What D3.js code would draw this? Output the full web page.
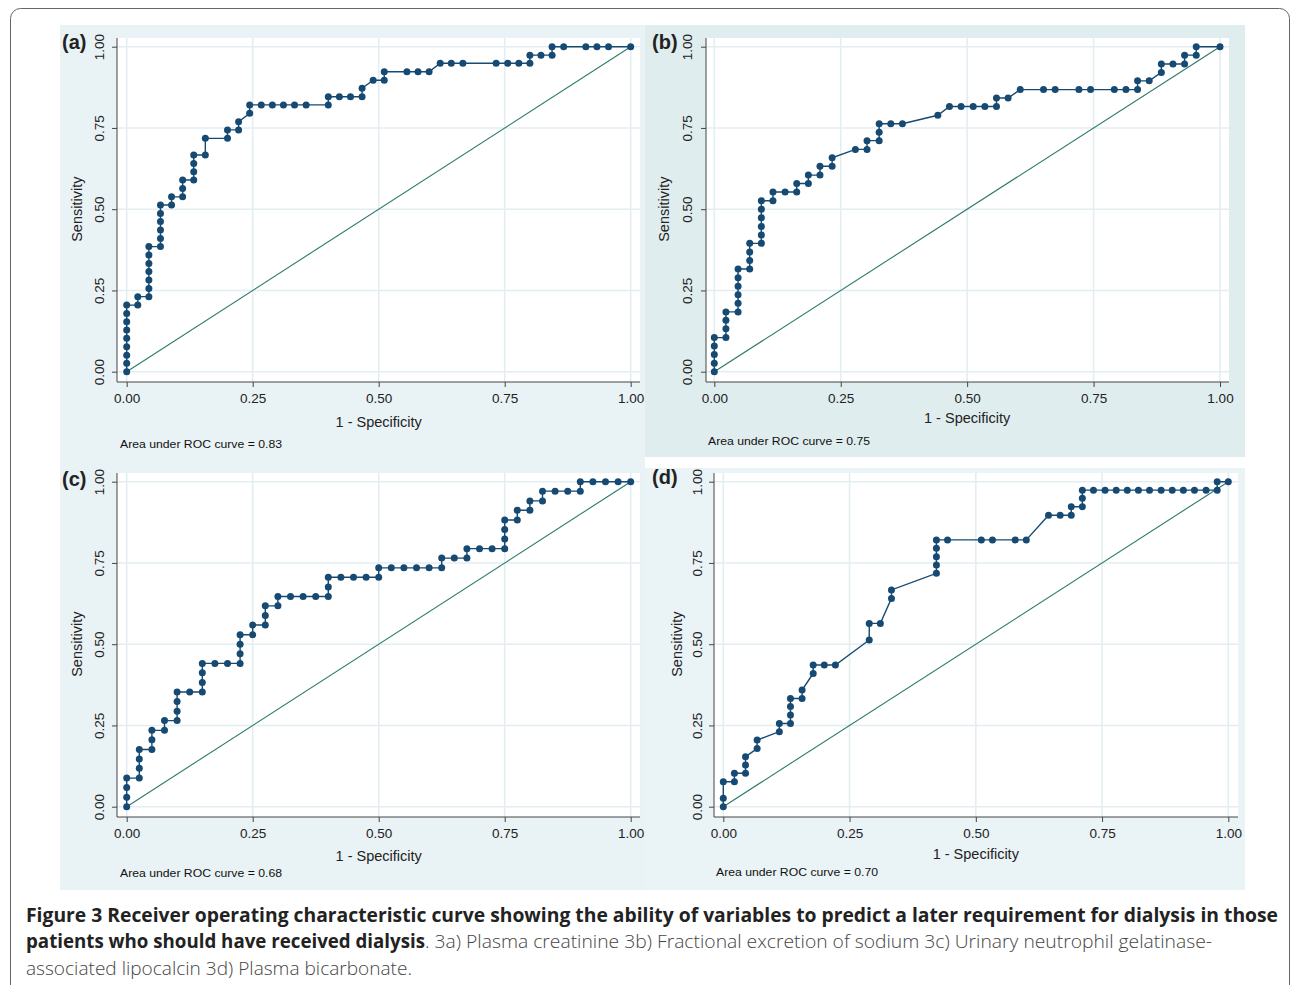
<!DOCTYPE html>
<html>
<head>
<meta charset="utf-8">
<script src="https://cdn.jsdelivr.net/npm/d3@7"></script>
<style>
  body { margin: 0; background: #fff; }
  svg { display: block; }
</style>
</head>
<body>
<div class="chart"></div>
<script>
// tick values shared by every panel
const xTicks = [0, 0.25, 0.5, 0.75, 1];
const yTicks = [0, 0.25, 0.5, 0.75, 1];
const panelTags = ["(a)", "(b)", "(c)", "(d)"];
const aucValues = [0.83, 0.75, 0.68, 0.70];
const refLine = [[0, 0], [1, 1]];

// ROC points [1 - specificity, sensitivity]
const rocA = [[0,0],[0,.026],[0,.051],[0,.077],[0,.103],[0,.128],[0,.154],[0,.179],[0,.205],
  [.022,.205],[.022,.231],
  [.044,.231],[.044,.256],[.044,.282],[.044,.308],[.044,.333],[.044,.359],[.044,.385],
  [.067,.385],[.067,.410],[.067,.436],[.067,.462],[.067,.487],[.067,.513],
  [.089,.513],[.089,.538],
  [.111,.538],[.111,.564],[.111,.590],
  [.133,.590],[.133,.615],[.133,.641],[.133,.667],
  [.156,.667],[.156,.718],
  [.200,.718],[.200,.744],
  [.222,.744],[.222,.769],
  [.244,.795],[.244,.821],
  [.267,.821],[.289,.821],[.311,.821],[.333,.821],[.356,.821],[.400,.821],[.400,.846],
  [.422,.846],[.444,.846],[.467,.846],[.467,.872],
  [.489,.897],[.511,.897],[.511,.923],
  [.556,.923],[.578,.923],[.600,.923],
  [.622,.949],[.644,.949],[.667,.949],
  [.733,.949],[.756,.949],[.778,.949],[.800,.949],[.800,.974],
  [.822,.974],[.844,.974],[.844,1],
  [.867,1],[.911,1],[.933,1],[.956,1],[1,1]];

const rocB = [[0,0],[0,.026],[0,.053],[0,.079],[0,.105],
  [.023,.105],[.023,.132],[.023,.158],[.023,.184],
  [.047,.184],[.047,.211],[.047,.237],[.047,.263],[.047,.289],[.047,.316],
  [.070,.316],[.070,.342],[.070,.368],[.070,.395],
  [.093,.395],[.093,.421],[.093,.447],[.093,.474],[.093,.500],[.093,.526],
  [.116,.526],[.116,.553],
  [.140,.553],[.163,.553],[.163,.579],
  [.186,.579],[.186,.605],
  [.209,.605],[.209,.632],
  [.233,.632],[.233,.658],
  [.279,.684],
  [.302,.684],[.302,.711],
  [.326,.711],[.326,.737],[.326,.763],
  [.349,.763],[.372,.763],
  [.442,.789],
  [.465,.816],[.488,.816],[.512,.816],[.535,.816],[.558,.816],[.558,.842],
  [.581,.842],
  [.605,.868],[.651,.868],[.674,.868],[.721,.868],[.744,.868],[.791,.868],[.814,.868],[.837,.868],[.837,.895],
  [.860,.895],
  [.884,.921],[.884,.947],
  [.907,.947],[.930,.947],[.930,.974],
  [.953,.974],[.953,1],
  [1,1]];

const rocC = [[0,0],[0,.029],[0,.059],[0,.088],
  [.025,.088],[.025,.118],[.025,.147],[.025,.176],
  [.050,.176],[.050,.206],[.050,.235],
  [.075,.235],[.075,.265],
  [.100,.265],[.100,.294],[.100,.324],[.100,.353],
  [.125,.353],[.150,.353],[.150,.382],[.150,.412],[.150,.441],
  [.175,.441],[.200,.441],[.225,.441],[.225,.471],[.225,.500],[.225,.529],
  [.250,.529],[.250,.559],
  [.275,.559],[.275,.588],[.275,.618],
  [.300,.618],[.300,.647],
  [.325,.647],[.350,.647],[.375,.647],[.400,.647],[.400,.676],[.400,.706],
  [.425,.706],[.450,.706],[.475,.706],[.500,.706],[.500,.735],
  [.525,.735],[.550,.735],[.575,.735],[.600,.735],[.625,.735],[.625,.765],
  [.650,.765],[.675,.765],[.675,.794],
  [.700,.794],[.725,.794],[.750,.794],[.750,.824],[.750,.853],[.750,.882],
  [.775,.882],[.775,.912],
  [.800,.912],[.800,.941],
  [.825,.941],[.825,.971],
  [.850,.971],[.875,.971],[.900,.971],[.900,1],
  [.925,1],[.950,1],[.975,1],[1,1]];

const rocD = [[0,0],[0,.026],[0,.077],
  [.022,.077],[.022,.103],
  [.044,.103],[.044,.128],[.044,.154],
  [.067,.179],[.067,.205],
  [.111,.231],[.111,.256],
  [.133,.256],[.133,.282],[.133,.308],[.133,.333],
  [.156,.333],[.156,.359],
  [.178,.410],[.178,.436],
  [.200,.436],[.222,.436],
  [.289,.513],[.289,.564],
  [.311,.564],
  [.333,.641],[.333,.667],
  [.422,.718],[.422,.744],[.422,.769],[.422,.795],[.422,.821],
  [.444,.821],[.511,.821],[.533,.821],[.578,.821],[.600,.821],
  [.644,.897],[.667,.897],[.689,.897],[.689,.923],
  [.711,.923],[.711,.949],[.711,.974],
  [.733,.974],[.756,.974],[.778,.974],[.800,.974],[.822,.974],[.844,.974],[.867,.974],
  [.889,.974],[.911,.974],[.933,.974],[.956,.974],[.978,.974],[.978,1],
  [1,1]];

const captionLine1 = "Figure 3 Receiver operating characteristic curve showing the ability of variables to predict a later requirement for dialysis in those";
const captionLine2Bold = "patients who should have received dialysis";
const captionLine2 = ". 3a) Plasma creatinine 3b) Fractional excretion of sodium 3c) Urinary neutrophil gelatinase-";
const captionLine3 = "associated lipocalcin 3d) Plasma bicarbonate.";

const W = 1293, H = 985;
const curveColor = "#164a72";
const diagColor = "#2b7a69";
const gridColor = "#e3eef3";
const axisFont = "'Liberation Sans', Arial, sans-serif";

// layout of the four panels (pixel boxes)
const panels = [
  {data: rocA, bg: [60, 25, 585, 440], bgColor: "#e9f2f5",
   plot: {left: 117, right: 640, top: 38, bottom: 382}, xr: [126.7, 630.7], yr: [371.7, 46.7],
   yLabX: 99, yTitleX: 77, xLabY: 398, xTitleY: 422, aucX: 120, aucY: 444, tagX: 62, tagY: 42},
  {data: rocB, bg: [645, 25, 600, 432], bgColor: "#e0edef",
   plot: {left: 706, right: 1229, top: 38, bottom: 382}, xr: [714.3, 1220], yr: [371.7, 46.7],
   yLabX: 687, yTitleX: 664, xLabY: 398, xTitleY: 418, aucX: 708, aucY: 441, tagX: 652, tagY: 42},
  {data: rocC, bg: [60, 465, 585, 425], bgColor: "#e9f2f5",
   plot: {left: 117, right: 640, top: 473, bottom: 817}, xr: [126.7, 630.7], yr: [806.7, 481.7],
   yLabX: 99, yTitleX: 77, xLabY: 833, xTitleY: 856, aucX: 120, aucY: 873, tagX: 62, tagY: 479},
  {data: rocD, bg: [645, 468, 600, 422], bgColor: "#eaf3f6",
   plot: {left: 714, right: 1238, top: 473, bottom: 817}, xr: [723.3, 1228.3], yr: [806.7, 481.7],
   yLabX: 697, yTitleX: 677, xLabY: 833, xTitleY: 854, aucX: 716, aucY: 872, tagX: 652, tagY: 477}
];

const svg = d3.select(".chart").append("svg")
    .attr("width", W)
    .attr("height", H);

svg.append("rect")
    .attr("width", W).attr("height", H)
    .attr("fill", "#fff");

// outer frame
svg.append("rect")
    .attr("x", 10.5).attr("y", 8.5)
    .attr("width", 1279).attr("height", 1010)
    .attr("rx", 10)
    .attr("fill", "none")
    .attr("stroke", "#666")
    .attr("stroke-width", 1);

panels.forEach((p, i) => drawPanel(p, i));

function drawPanel(p, i) {
    const g = svg.append("g");

    g.append("rect")
        .attr("x", p.bg[0]).attr("y", p.bg[1])
        .attr("width", p.bg[2]).attr("height", p.bg[3])
        .attr("fill", p.bgColor);

    g.append("rect")
        .attr("x", p.plot.left).attr("y", p.plot.top)
        .attr("width", p.plot.right - p.plot.left)
        .attr("height", p.plot.bottom - p.plot.top)
        .attr("fill", "#fff");

    const xScale = d3.scaleLinear().domain([0, 1]).range(p.xr);
    const yScale = d3.scaleLinear().domain([0, 1]).range(p.yr);

    // grid
    g.append("g").selectAll("line")
        .data(xTicks)
        .join("line")
        .attr("x1", d => xScale(d)).attr("x2", d => xScale(d))
        .attr("y1", p.plot.top).attr("y2", p.plot.bottom)
        .attr("stroke", gridColor).attr("stroke-width", 1.6);

    g.append("g").selectAll("line")
        .data(yTicks)
        .join("line")
        .attr("y1", d => yScale(d)).attr("y2", d => yScale(d))
        .attr("x1", p.plot.left).attr("x2", p.plot.right)
        .attr("stroke", gridColor).attr("stroke-width", 1.6);

    const line = d3.line()
        .x(d => xScale(d[0]))
        .y(d => yScale(d[1]));

    g.append("path")
        .datum(refLine)
        .attr("d", line)
        .attr("fill", "none")
        .attr("stroke", diagColor)
        .attr("stroke-width", 1.1);

    g.append("path")
        .datum(p.data)
        .attr("d", line)
        .attr("fill", "none")
        .attr("stroke", curveColor)
        .attr("stroke-width", 1.4);

    g.append("g").selectAll("circle")
        .data(p.data)
        .join("circle")
        .attr("cx", d => xScale(d[0]))
        .attr("cy", d => yScale(d[1]))
        .attr("r", 3.5)
        .attr("fill", curveColor);

    // x axis
    g.append("g")
        .attr("transform", `translate(0,${p.plot.bottom})`)
        .call(d3.axisBottom(xScale).tickValues(xTicks).tickFormat(d3.format(".2f")).tickSize(5).tickPadding(6))
        .call(a => a.select(".domain").remove())
        .call(a => a.selectAll(".tick line").attr("stroke", "#444"))
        .call(a => a.selectAll(".tick text")
            .attr("y", p.xLabY - p.plot.bottom)
            .attr("dy", "0.35em")
            .attr("fill", "#222")
            .style("font-family", axisFont)
            .style("font-size", "13.5px"));

    // y axis, labels rotated like the Stata output
    g.append("g")
        .attr("transform", `translate(${p.plot.left},0)`)
        .call(d3.axisLeft(yScale).tickValues(yTicks).tickFormat(d3.format(".2f")).tickSize(5))
        .call(a => a.select(".domain").remove())
        .call(a => a.selectAll(".tick line").attr("stroke", "#444"))
        .call(a => a.selectAll(".tick text")
            .attr("x", null).attr("dy", null)
            .attr("transform", `translate(${p.yLabX - p.plot.left},0) rotate(-90)`)
            .attr("text-anchor", "middle")
            .attr("dominant-baseline", "central")
            .attr("fill", "#222")
            .style("font-family", axisFont)
            .style("font-size", "13.5px"));

    // axis lines
    g.append("line")
        .attr("x1", p.plot.left).attr("x2", p.plot.left)
        .attr("y1", p.plot.top).attr("y2", p.plot.bottom)
        .attr("stroke", "#444").attr("stroke-width", 1);
    g.append("line")
        .attr("x1", p.plot.left).attr("x2", p.plot.right)
        .attr("y1", p.plot.bottom).attr("y2", p.plot.bottom)
        .attr("stroke", "#444").attr("stroke-width", 1);

    const midY = (p.yr[0] + p.yr[1]) / 2;
    const midX = (p.xr[0] + p.xr[1]) / 2;

    g.append("text")
        .attr("transform", `translate(${p.yTitleX},${midY}) rotate(-90)`)
        .attr("text-anchor", "middle")
        .attr("dominant-baseline", "central")
        .attr("fill", "#222")
        .style("font-family", axisFont)
        .style("font-size", "14.5px")
        .text("Sensitivity");

    g.append("text")
        .attr("x", midX).attr("y", p.xTitleY)
        .attr("text-anchor", "middle")
        .attr("dominant-baseline", "central")
        .attr("fill", "#222")
        .style("font-family", axisFont)
        .style("font-size", "14.5px")
        .text("1 - Specificity");

    g.append("text")
        .attr("x", p.aucX).attr("y", p.aucY)
        .attr("dominant-baseline", "central")
        .attr("textLength", 162)
        .attr("lengthAdjust", "spacingAndGlyphs")
        .attr("fill", "#111")
        .style("font-family", axisFont)
        .style("font-size", "11.5px")
        .text("Area under ROC curve = " + d3.format(".2f")(aucValues[i]));

    g.append("text")
        .attr("x", p.tagX).attr("y", p.tagY)
        .attr("dominant-baseline", "central")
        .attr("fill", "#222")
        .style("font-family", axisFont)
        .style("font-size", "20px")
        .style("font-weight", "bold")
        .text(panelTags[i]);
}

// caption
const capFont = "'Open Sans', 'Noto Sans', sans-serif";

svg.append("text")
    .attr("x", 26).attr("y", 922)
    .attr("textLength", 1252)
    .attr("lengthAdjust", "spacingAndGlyphs")
    .attr("fill", "#222")
    .style("font-family", capFont)
    .style("font-size", "19px")
    .style("font-weight", "bold")
    .text(captionLine1);

svg.append("text")
    .attr("x", 26).attr("y", 948)
    .attr("textLength", 399)
    .attr("lengthAdjust", "spacingAndGlyphs")
    .attr("fill", "#222")
    .style("font-family", capFont)
    .style("font-size", "19px")
    .style("font-weight", "bold")
    .text(captionLine2Bold);

svg.append("text")
    .attr("x", 425).attr("y", 948)
    .attr("textLength", 787)
    .attr("lengthAdjust", "spacingAndGlyphs")
    .attr("fill", "#444")
    .style("font-family", capFont)
    .style("font-size", "19px")
    .style("font-weight", "300")
    .text(captionLine2);

svg.append("text")
    .attr("x", 26).attr("y", 975)
    .attr("textLength", 386)
    .attr("lengthAdjust", "spacingAndGlyphs")
    .attr("fill", "#444")
    .style("font-family", capFont)
    .style("font-size", "19px")
    .style("font-weight", "300")
    .text(captionLine3);
</script>
</body>
</html>
